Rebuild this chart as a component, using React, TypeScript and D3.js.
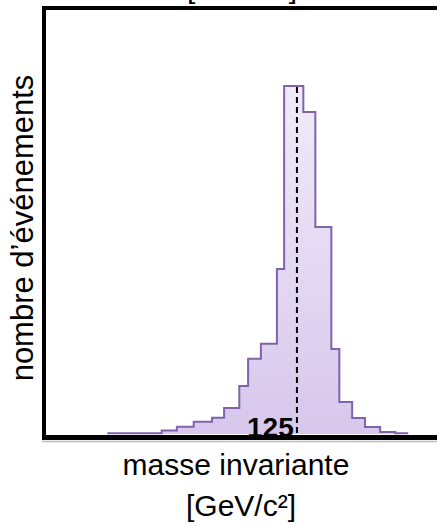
import * as d3 from "d3";
import { useRef, useEffect } from "react";

// bin edges (GeV/c²) and counts
const binEdges = [101.3, 108.1, 110, 112.1, 114.4, 115.9, 117.8, 118.9, 120.5, 122.5, 123.4,
    125.8, 127.3, 129.3, 130.3, 131.9, 133.5, 135.4, 137.3, 138.9];
const binCounts = [0.2, 1.0, 2.1, 3.5, 4.7, 7.5, 13.8, 21.6, 25.9, 47.4, 100,
    92.5, 59.5, 24.4, 9.2, 4.6, 2.0, 0.6, 0.2];
const higgsMass = 125;
const yLabel = "nombre d\u2019événements";
const xLabel = "masse invariante";
const xUnit = "[GeV/c²]";

function getBins() {
    const out = [];
    for (let i = 0; i < binCounts.length; i++) {
        out.push({ x0: binEdges[i], x1: binEdges[i + 1], n: binCounts[i] });
    }
    return out;
}

export default function App() {
    const containerRef = useRef(null);
    const width = 437, height = 526;

    useEffect(() => {
        d3.select(containerRef.current).select("svg").remove();
        const svg = d3.select(containerRef.current)
            .append("svg")
            .attr("width", width)
            .attr("height", height)
            .style("position", "absolute")
            .style("left", "0px")
            .style("top", "0px")
            .style("background", "#fff");

        const font = "'Liberation Sans', Arial, sans-serif";

        const x_scale = d3.scaleLinear().domain([93.4, 142.5]).range([44, 437]);
        const y_scale = d3.scaleLinear().domain([0, 100]).range([434, 86]);

        // gradient for the histogram fill
        const grad = svg.append("defs").append("linearGradient")
            .attr("id", "histFill")
            .attr("x1", 0).attr("y1", 0).attr("x2", 0).attr("y2", 1);
        grad.append("stop").attr("offset", "0%").attr("stop-color", "#f0ebf9");
        grad.append("stop").attr("offset", "100%").attr("stop-color", "#d7c7ec");

        const bins = getBins();
        const pts = [];
        pts.push([x_scale(bins[0].x0), y_scale(0)]);
        bins.forEach(b => {
            pts.push([x_scale(b.x0), y_scale(b.n)]);
            pts.push([x_scale(b.x1), y_scale(b.n)]);
        });
        pts.push([x_scale(bins[bins.length - 1].x1), y_scale(0)]);

        const line = d3.line();

        svg.append("path")
            .attr("d", line(pts) + "Z")
            .attr("fill", "url(#histFill)")
            .attr("stroke", "none");

        // outline without the bottom edge
        svg.append("path")
            .attr("d", line(pts.slice(1, -1)))
            .attr("fill", "none")
            .attr("stroke", "#8063aa")
            .attr("stroke-width", 2)
            .attr("stroke-linejoin", "miter");

        // 125 label
        svg.append("text")
            .attr("x", 247)
            .attr("y", 437)
            .style("font-family", font)
            .style("font-weight", "bold")
            .style("font-size", "28px")
            .attr("fill", "#000")
            .text(String(higgsMass));

        // dashed line at 125
        svg.append("line")
            .attr("x1", x_scale(higgsMass)).attr("x2", x_scale(higgsMass))
            .attr("y1", y_scale(100) + 1).attr("y2", y_scale(0))
            .attr("stroke", "#000")
            .attr("stroke-width", 2)
            .attr("stroke-dasharray", "6,4");

        // frame: top, left, bottom
        svg.append("line")
            .attr("x1", 42).attr("x2", 437).attr("y1", 8).attr("y2", 8)
            .attr("stroke", "#000").attr("stroke-width", 4);
        svg.append("line")
            .attr("x1", 44).attr("x2", 44).attr("y1", 6).attr("y2", 440)
            .attr("stroke", "#000").attr("stroke-width", 4);
        svg.append("line")
            .attr("x1", 42).attr("x2", 437).attr("y1", 441.5).attr("y2", 441.5)
            .attr("stroke", "#bbb").attr("stroke-width", 1.5);
        svg.append("line")
            .attr("x1", 42).attr("x2", 437).attr("y1", 437.5).attr("y2", 437.5)
            .attr("stroke", "#000").attr("stroke-width", 5);

        // unit text cut by the top of the picture
        svg.append("text")
            .attr("x", 242).attr("y", -2)
            .attr("text-anchor", "middle")
            .style("font-family", font)
            .style("font-size", "30px")
            .text(xUnit);

        // y label
        svg.append("text")
            .attr("transform", "translate(33,228) rotate(-90)")
            .attr("text-anchor", "middle")
            .style("font-family", font)
            .style("font-size", "31px")
            .text(yLabel);

        // x label
        svg.append("text")
            .attr("x", 236).attr("y", 475)
            .attr("text-anchor", "middle")
            .style("font-family", font)
            .style("font-size", "30px")
            .text(xLabel);
        svg.append("text")
            .attr("x", 241).attr("y", 516)
            .attr("text-anchor", "middle")
            .style("font-family", font)
            .style("font-size", "30px")
            .text(xUnit);
    });

    return (
        <div ref={containerRef}></div>
    );
}
